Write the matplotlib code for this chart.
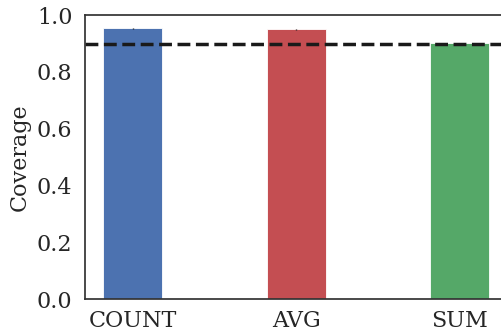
import matplotlib
matplotlib.use("Agg")
import matplotlib.pyplot as plt
import seaborn as sns

aggregates = ["COUNT", "AVG", "SUM"]
coverage = [0.953, 0.950, 0.902]
coverage_err = [0.003, 0.002, 0.001]
target = 0.9

sns.set_style("white")
plt.rcParams["font.family"] = ["DejaVu Serif"]

colors = ["#4C72B0", "#C44E52", "#55A868"]

fig = plt.figure(figsize=(5.02, 3.36), dpi=100)
ax = fig.add_axes([0.169, 0.110, 0.842, 0.845])

x = range(len(aggregates))
ax.bar(x, coverage, width=0.36, color=colors, edgecolor="white", linewidth=0.6,
       yerr=coverage_err, error_kw=dict(ecolor="#222222", elinewidth=1, capsize=0))
ax.axhline(target, color="#1a1a1a", linestyle="--", linewidth=2.5)

ax.set_xlim(-0.294, 2.294)
ax.set_ylim(0, 1.0)
ax.set_xticks(list(x))
ax.set_xticklabels(aggregates, fontsize=16, color="#262626")
ax.set_yticks([0.0, 0.2, 0.4, 0.6, 0.8, 1.0])
ax.set_yticklabels(["0.0", "0.2", "0.4", "0.6", "0.8", "1.0"], fontsize=16, color="#262626")
ax.set_ylabel("Coverage", fontsize=16, color="#262626")
ax.tick_params(axis="y", length=0, pad=9)
ax.tick_params(axis="x", length=0, pad=8)
for s in ax.spines.values():
    s.set_color("#333333")
    s.set_linewidth(1.25)

fig.savefig("out.png", dpi=100)
